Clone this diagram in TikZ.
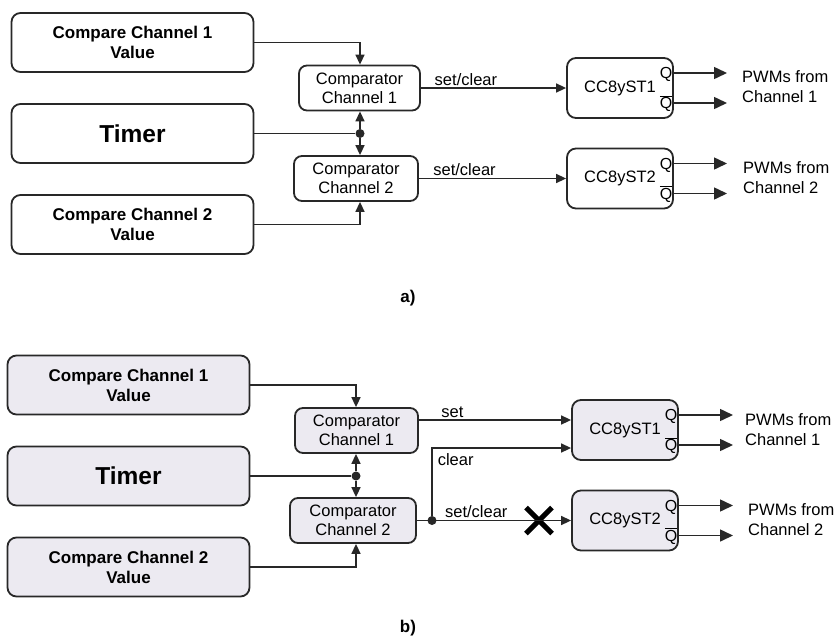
\documentclass[tikz,border=0pt]{standalone}
\usepackage{fontspec}
\setmainfont{Liberation Sans}
\usetikzlibrary{arrows.meta,shapes.misc}
\definecolor{boxfill}{RGB}{236,234,241}
\definecolor{edge}{RGB}{40,40,40}
\tikzstyle{valbox} = [rectangle, rounded corners=9pt, minimum width=242pt, minimum height=59pt, align=center, draw=edge, line width=1.8pt, font=\bfseries\fontsize{17}{20}\selectfont]
\tikzstyle{timerbox} = [valbox, font=\bfseries\fontsize{24.5}{28}\selectfont]
\tikzstyle{cmpbox} = [rectangle, rounded corners=8pt, minimum height=45pt, align=center, draw=edge, line width=1.8pt, font=\fontsize{16.5}{19}\selectfont]
\tikzstyle{ffbox} = [rectangle, rounded corners=9pt, minimum width=106pt, minimum height=60pt, draw=edge, line width=1.8pt, font=\fontsize{16.5}{19}\selectfont]
\tikzstyle{grey} = [fill=boxfill]
\tikzstyle{qlab} = [anchor=base east, inner sep=1.5pt, font=\fontsize{16}{19}\selectfont]
\tikzstyle{pwmlab} = [anchor=west, align=left, inner sep=0pt, font=\fontsize{16.5}{20}\selectfont]
\tikzstyle{sig} = [above, inner sep=2pt, font=\fontsize{16.5}{19}\selectfont]
\tikzstyle{wire} = [line width=1.5pt, draw=edge]
\tikzstyle{arrow} = [wire, -{Triangle[length=10pt,width=9pt]}]
\tikzstyle{outarrow} = [wire, -{Triangle[length=13pt,width=12pt]}]
\tikzstyle{dot} = [circle, fill=edge, inner sep=0pt, minimum size=9pt]
\tikzstyle{part} = [font=\bfseries\fontsize{17}{20}\selectfont]

\begin{document}
\begin{tikzpicture}[x=1pt, y=1pt, node distance=91pt]
	\useasboundingbox (0,0) rectangle (837,-640);

	% a)
	\node (cv1a) [valbox] at (132.5,-42.5) {Compare Channel 1\\Value};
	\node (timera) [timerbox, below of=cv1a] {Timer};
	\node (cv2a) [valbox, below of=timera] {Compare Channel 2\\Value};
	\node (cmp1a) [cmpbox, minimum width=121pt] at (359.5,-88) {Comparator\\Channel 1};
	\node (cmp2a) [cmpbox, minimum width=124pt] at (356,-178.5) {Comparator\\Channel 2};
	\node (ff1a) [ffbox] at (620,-88) {CC8yST1};
	\node (ff2a) [ffbox] at (620,-178.5) {CC8yST2};
	\node (q1a) [qlab] at ([yshift=9.5pt]ff1a.east) {Q};
	\node (qb1a) [qlab] at ([yshift=-20.5pt]ff1a.east) {\(\overline{\hbox{Q}}\)};
	\node (q2a) [qlab] at ([yshift=9.5pt]ff2a.east) {Q};
	\node (qb2a) [qlab] at ([yshift=-20.5pt]ff2a.east) {\(\overline{\hbox{Q}}\)};
	\node (tdota) [dot] at (360,-133.5) {};
	\node (pwm1a) [pwmlab] at (742,-87) {PWMs from\\Channel 1};
	\node (pwm2a) [pwmlab] at (743,-178) {PWMs from\\Channel 2};
	\node (capa) [part] at (408,-298) {a)};
	\coordinate (o1a) at (727,-73);
	\coordinate (o2a) at (727,-103);
	\coordinate (o3a) at (727,-163.5);
	\coordinate (o4a) at (727,-193.5);

	\draw [arrow] (cv1a.east) -| (tdota |- cmp1a.north);
	\draw [wire] (timera.east) -- (tdota);
	\draw [arrow] (tdota) -- (tdota |- cmp1a.south);
	\draw [arrow] (tdota) -- (tdota |- cmp2a.north);
	\draw [arrow] (cv2a.east) -| (tdota |- cmp2a.south);
	\draw [arrow] (cmp1a.east) -- (ff1a.west) node [sig, pos=0.31] {set/clear};
	\draw [arrow] (cmp2a.east) -- (ff2a.west) node [sig, pos=0.31] {set/clear};
	\draw [outarrow] (ff1a.east |- o1a) -- (o1a);
	\draw [outarrow] (ff1a.east |- o2a) -- (o2a);
	\draw [outarrow] (ff2a.east |- o3a) -- (o3a);
	\draw [outarrow] (ff2a.east |- o4a) -- (o4a);

	% b)
	\node (cv1b) [valbox, grey] at (128.5,-385) {Compare Channel 1\\Value};
	\node (timerb) [timerbox, grey, below of=cv1b] {Timer};
	\node (cv2b) [valbox, grey, below of=timerb] {Compare Channel 2\\Value};
	\node (cmp1b) [cmpbox, grey, minimum width=123pt] at (356.5,-430.5) {Comparator\\Channel 1};
	\node (cmp2b) [cmpbox, grey, minimum width=126pt] at (353,-520.5) {Comparator\\Channel 2};
	\node (ff1b) [ffbox, grey] at (625,-430) {CC8yST1};
	\node (ff2b) [ffbox, grey] at (625,-520.5) {CC8yST2};
	\node (q1b) [qlab] at ([yshift=9.5pt]ff1b.east) {Q};
	\node (qb1b) [qlab] at ([yshift=-20.5pt]ff1b.east) {\(\overline{\hbox{Q}}\)};
	\node (q2b) [qlab] at ([yshift=9.5pt]ff2b.east) {Q};
	\node (qb2b) [qlab] at ([yshift=-20.5pt]ff2b.east) {\(\overline{\hbox{Q}}\)};
	\node (tdotb) [dot] at (356,-476) {};
	\node (split) [dot] at (432,-520.5) {};
	\node (cut) [draw=black, cross out, line width=5pt, minimum size=21pt, inner sep=0pt] at (539,-520.5) {};
	\node (pwm1b) [pwmlab] at (745,-430) {PWMs from\\Channel 1};
	\node (pwm2b) [pwmlab] at (748,-520) {PWMs from\\Channel 2};
	\node (capb) [part] at (408,-628) {b)};
	\coordinate (setin) at ([yshift=10pt]ff1b.west);
	\coordinate (clrin) at ([yshift=-18pt]ff1b.west);
	\coordinate (o1b) at (733,-415);
	\coordinate (o2b) at (733,-445);
	\coordinate (o3b) at (733,-505.5);
	\coordinate (o4b) at (733,-535.5);

	\draw [arrow] (cv1b.east) -| (tdotb |- cmp1b.north);
	\draw [wire] (timerb.east) -- (tdotb);
	\draw [arrow] (tdotb) -- (tdotb |- cmp1b.south);
	\draw [arrow] (tdotb) -- (tdotb |- cmp2b.north);
	\draw [arrow] (cv2b.east) -| (tdotb |- cmp2b.south);
	\draw [arrow] (cmp1b.east |- setin) -- (setin) node [sig, pos=0.22] {set};
	\draw [arrow] (split) |- (clrin) node [sig, pos=0.5, anchor=north west, inner sep=5pt] {clear};
	\draw [arrow] (cmp2b.east) -- (ff2b.west) node [sig, pos=0.385] {set/clear};
	\draw [outarrow] (ff1b.east |- o1b) -- (o1b);
	\draw [outarrow] (ff1b.east |- o2b) -- (o2b);
	\draw [outarrow] (ff2b.east |- o3b) -- (o3b);
	\draw [outarrow] (ff2b.east |- o4b) -- (o4b);

\end{tikzpicture}
\end{document}
